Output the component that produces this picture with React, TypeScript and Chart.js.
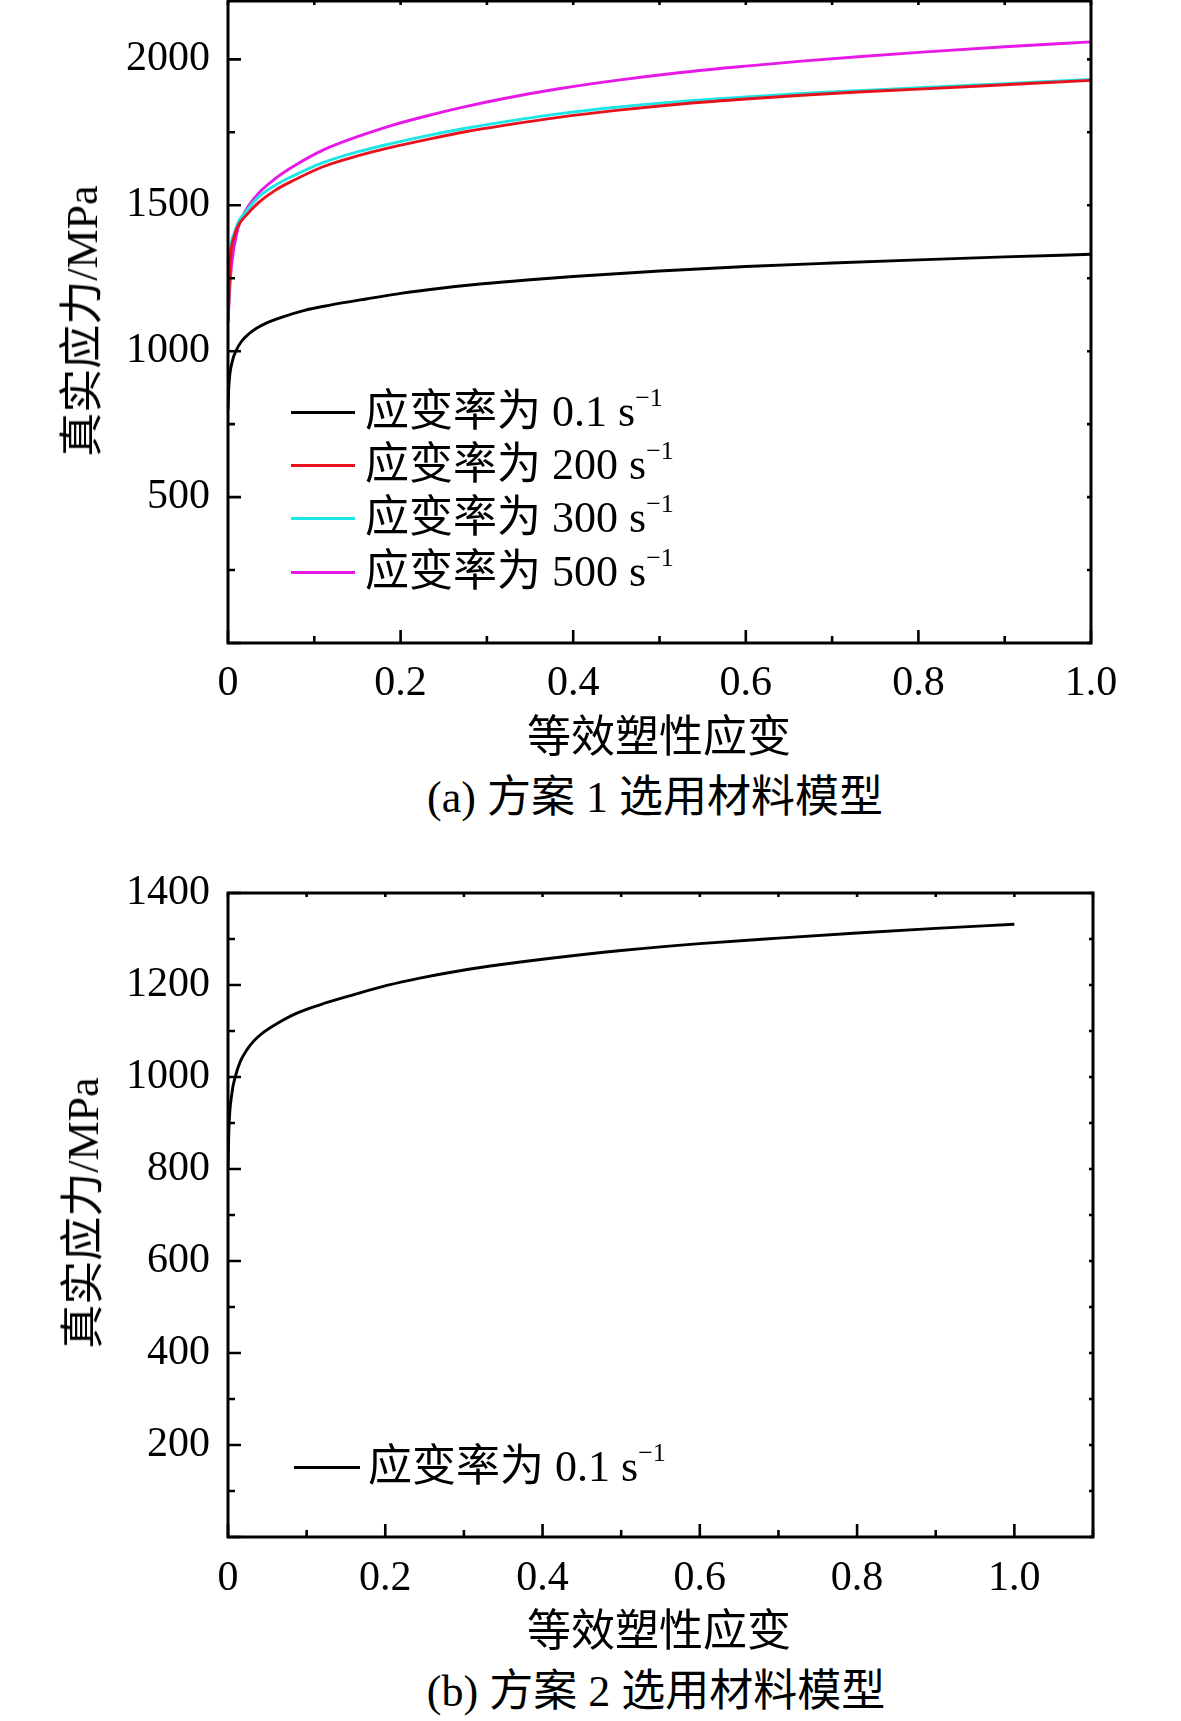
import React, { useEffect, useRef } from 'react';
import { Chart, registerables } from 'chart.js';

Chart.register(...registerables);

// ---------- data ----------
const strainRates = ['0.1', '200', '300', '500'];
const seriesColors = ['#000000', '#e8121c', '#1ee6e6', '#e619e6'];

// strain grid for the high-rate curves
const strainHigh = [0, 0.003, 0.007, 0.012, 0.02, 0.035, 0.055, 0.075, 0.11, 0.15, 0.19, 0.23, 0.275, 0.32, 0.385, 0.45, 0.525, 0.6, 0.665, 0.73, 0.8, 0.9, 1.0];
const stress200 = [1100, 1322, 1391, 1431, 1462, 1508, 1552, 1584, 1632, 1669, 1699, 1725, 1752, 1774, 1802, 1825, 1847, 1864, 1877, 1888, 1898, 1913, 1928];
const stress300 = [1100, 1345, 1403, 1443, 1476, 1527, 1569, 1600, 1646, 1683, 1712, 1738, 1764, 1786, 1814, 1836, 1856, 1871, 1883, 1893, 1903, 1917, 1931];
const stress500 = [1100, 1260, 1357, 1425, 1480, 1540, 1592, 1632, 1689, 1735, 1774, 1806, 1838, 1866, 1900, 1928, 1955, 1977, 1994, 2009, 2024, 2043, 2060];

// strain grid for the quasi-static curve
const strainLow = [0, 0.001, 0.005, 0.0093, 0.0157, 0.024, 0.0326, 0.045, 0.062, 0.0877, 0.117, 0.16, 0.202, 0.244, 0.295, 0.35, 0.4, 0.5, 0.6, 0.7, 0.8, 0.9, 1.0];
const stress01 = [800, 880, 965, 1001, 1034, 1059, 1078, 1097, 1116, 1139, 1157, 1179, 1199, 1215, 1231, 1245, 1256, 1275, 1290, 1302, 1313, 1323, 1332];

const xTickLabels = ['0', '0.2', '0.4', '0.6', '0.8', '1.0'];
const yTickLabelsA = ['500', '1000', '1500', '2000'];
const yTickLabelsB = ['200', '400', '600', '800', '1000', '1200', '1400'];

const yTitle = '真实应力/MPa';
const xTitle = '等效塑性应变';
const captionA = '(a) 方案 1 选用材料模型';
const captionB = '(b) 方案 2 选用材料模型';
const legendPrefix = '应变率为';

// ---------- layout ----------
const W = 1181;
const FONT = "'Liberation Serif', 'Noto Sans CJK SC', serif";

type Series = { x: number[]; y: number[]; color: string; label: string };

function stepValues(max: number, step: number) {
  const out: number[] = [];
  const n = Math.floor(max / step + 1e-9);
  for (let i = 0; i <= n; i++) out.push(Math.round(i * step * 1e6) / 1e6);
  return out;
}

function framePlugin(xStep: number, yStep: number) {
  return {
    id: 'frameTicks',
    afterDraw(chart: any) {
      const { ctx, chartArea: a, scales } = chart;
      ctx.save();
      ctx.strokeStyle = '#000';
      ctx.lineWidth = 3;
      ctx.strokeRect(a.left, a.top, a.right - a.left, a.bottom - a.top);
      ctx.lineWidth = 2.6;
      const drawAxis = (scale: any, step: number, horizontal: boolean) => {
        scale.ticks.forEach((t: any) => {
          const k = Math.round(t.value / step);
          if (Math.abs(t.value - k * step) > step * 1e-3) return;
          const p = scale.getPixelForValue(t.value);
          const major = k % 2 === 0;
          const len = major ? 13 : 7;
          const mlen = 4;
          ctx.beginPath();
          if (horizontal) {
            ctx.moveTo(p, a.bottom);
            ctx.lineTo(p, a.bottom - len);
            ctx.moveTo(p, a.top);
            ctx.lineTo(p, a.top + mlen);
          } else {
            ctx.moveTo(a.left, p);
            ctx.lineTo(a.left + len, p);
            ctx.moveTo(a.right, p);
            ctx.lineTo(a.right - mlen, p);
          }
          ctx.stroke();
        });
      };
      drawAxis(scales.x, xStep, true);
      drawAxis(scales.y, yStep, false);
      ctx.restore();
    },
  };
}

type PanelProps = {
  top: number;
  height: number;
  plotTop: number;
  plotBottom: number;
  plotLeft: number;
  plotRight: number;
  xMax: number;
  yMax: number;
  yStep: number;
  yLabels: string[];
  xPad: number;
  series: Series[];
};

function Panel(p: PanelProps) {
  const ref = useRef<HTMLCanvasElement | null>(null);
  useEffect(() => {
    if (!ref.current) return;
    const xStep = 0.1;
    const font = { family: FONT, size: 42, weight: 'normal' as const };
    const chart = new Chart(ref.current, {
      type: 'line',
      data: {
        datasets: p.series.map((s) => ({
          label: s.label,
          data: s.x.map((x, i) => ({ x, y: s.y[i] })),
          borderColor: s.color,
          backgroundColor: s.color,
          borderWidth: 2.9,
          pointRadius: 0,
          fill: false,
          cubicInterpolationMode: 'monotone' as const,
        })),
      },
      options: {
        animation: false,
        responsive: false,
        devicePixelRatio: 1,
        layout: { padding: { left: 0, right: W - p.plotRight, top: p.plotTop, bottom: 0 } },
        plugins: { legend: { display: false }, tooltip: { enabled: false }, title: { display: false } },
        scales: {
          x: {
            type: 'linear',
            min: 0,
            max: p.xMax,
            grid: { display: false, drawTicks: false },
            border: { display: false },
            afterBuildTicks: (s: any) => {
              s.ticks = stepValues(p.xMax, xStep).map((v) => ({ value: v }));
            },
            ticks: {
              autoSkip: false,
              maxRotation: 0,
              minRotation: 0,
              padding: p.xPad,
              color: '#000',
              font,
              callback: (v: any) => {
                const k = Math.round(Number(v) / xStep);
                if (Math.abs(Number(v) - k * xStep) > 1e-6 || k % 2 !== 0) return '';
                return xTickLabels[k / 2] ?? '';
              },
            },
            afterFit: (s: any) => {
              s.height = p.height - p.plotBottom;
              s.paddingLeft = 0;
              s.paddingRight = 0;
            },
          },
          y: {
            type: 'linear',
            min: 0,
            max: p.yMax,
            grid: { display: false, drawTicks: false },
            border: { display: false },
            afterBuildTicks: (s: any) => {
              s.ticks = stepValues(p.yMax, p.yStep).map((v) => ({ value: v }));
            },
            ticks: {
              autoSkip: false,
              padding: 18,
              color: '#000',
              font,
              callback: (v: any) => {
                const k = Math.round(Number(v) / p.yStep);
                if (Math.abs(Number(v) - k * p.yStep) > 1e-6 || k % 2 !== 0 || k === 0) return '';
                return p.yLabels[k / 2 - 1] ?? '';
              },
            },
            afterFit: (s: any) => {
              s.width = p.plotLeft;
              s.paddingTop = 0;
              s.paddingBottom = 0;
            },
          },
        },
      },
      plugins: [framePlugin(xStep, p.yStep)],
    });
    return () => chart.destroy();
  }, []);
  return (
    <canvas
      ref={ref}
      width={W}
      height={p.height}
      style={{ position: 'absolute', left: 0, top: p.top, width: W, height: p.height }}
    />
  );
}

const textBase: React.CSSProperties = {
  position: 'absolute',
  fontFamily: FONT,
  color: '#000',
  lineHeight: 1,
  whiteSpace: 'nowrap',
};

function CenterText({ x, y, size, rotate, children }: { x: number; y: number; size: number; rotate?: boolean; children: React.ReactNode }) {
  return (
    <div
      style={{
        ...textBase,
        left: x,
        top: y,
        fontSize: size,
        transform: `translate(-50%, -50%)${rotate ? ' rotate(-90deg)' : ''}`,
      }}
    >
      {children}
    </div>
  );
}

function LegendRow({ x, y, color, rate, lineW, gap }: { x: number; y: number; color: string; rate: string; lineW: number; gap: number }) {
  return (
    <div style={{ ...textBase, left: x, top: y, transform: 'translateY(-50%)', display: 'flex', alignItems: 'center', fontSize: 44 }}>
      <span style={{ display: 'inline-block', width: lineW, height: 3, background: color }} />
      <span style={{ marginLeft: gap }}>
        {legendPrefix} {rate} s<sup style={{ fontSize: 26, verticalAlign: 0, position: 'relative', top: -20 }}>−1</sup>
      </span>
    </div>
  );
}

export default function App() {
  const seriesA: Series[] = [
    { x: strainLow, y: stress01, color: seriesColors[0], label: `${legendPrefix} ${strainRates[0]} s⁻¹` },
    { x: strainHigh, y: stress200, color: seriesColors[1], label: `${legendPrefix} ${strainRates[1]} s⁻¹` },
    { x: strainHigh, y: stress300, color: seriesColors[2], label: `${legendPrefix} ${strainRates[2]} s⁻¹` },
    { x: strainHigh, y: stress500, color: seriesColors[3], label: `${legendPrefix} ${strainRates[3]} s⁻¹` },
  ];
  const seriesB: Series[] = [
    { x: strainLow, y: stress01, color: seriesColors[0], label: `${legendPrefix} ${strainRates[0]} s⁻¹` },
  ];
  const legendYA = [412, 465, 518, 572];
  return (
    <div style={{ position: 'absolute', left: 0, top: 0, width: W, height: 1721, background: '#fff', overflow: 'hidden' }}>
      <Panel
        top={0}
        height={720}
        plotTop={1}
        plotBottom={643}
        plotLeft={228}
        plotRight={1091}
        xMax={1.0}
        yMax={2200}
        yStep={250}
        yLabels={yTickLabelsA}
        xPad={16}
        series={seriesA}
      />
      <Panel
        top={860}
        height={760}
        plotTop={33}
        plotBottom={677}
        plotLeft={228}
        plotRight={1093}
        xMax={1.1}
        yMax={1400}
        yStep={100}
        yLabels={yTickLabelsB}
        xPad={17}
        series={seriesB}
      />
      <CenterText x={83} y={321} size={44} rotate>{yTitle}</CenterText>
      <CenterText x={659} y={738} size={44}>{xTitle}</CenterText>
      <CenterText x={655} y={798} size={44}>{captionA}</CenterText>
      <CenterText x={84} y={1213} size={44} rotate>{yTitle}</CenterText>
      <CenterText x={659} y={1632} size={44}>{xTitle}</CenterText>
      <CenterText x={656} y={1692} size={44}>{captionB}</CenterText>
      {strainRates.map((r, i) => (
        <LegendRow key={r} x={291} y={legendYA[i]} color={seriesColors[i]} rate={r} lineW={64} gap={10} />
      ))}
      <LegendRow x={294} y={1467} color={seriesColors[0]} rate={strainRates[0]} lineW={66} gap={8} />
    </div>
  );
}
